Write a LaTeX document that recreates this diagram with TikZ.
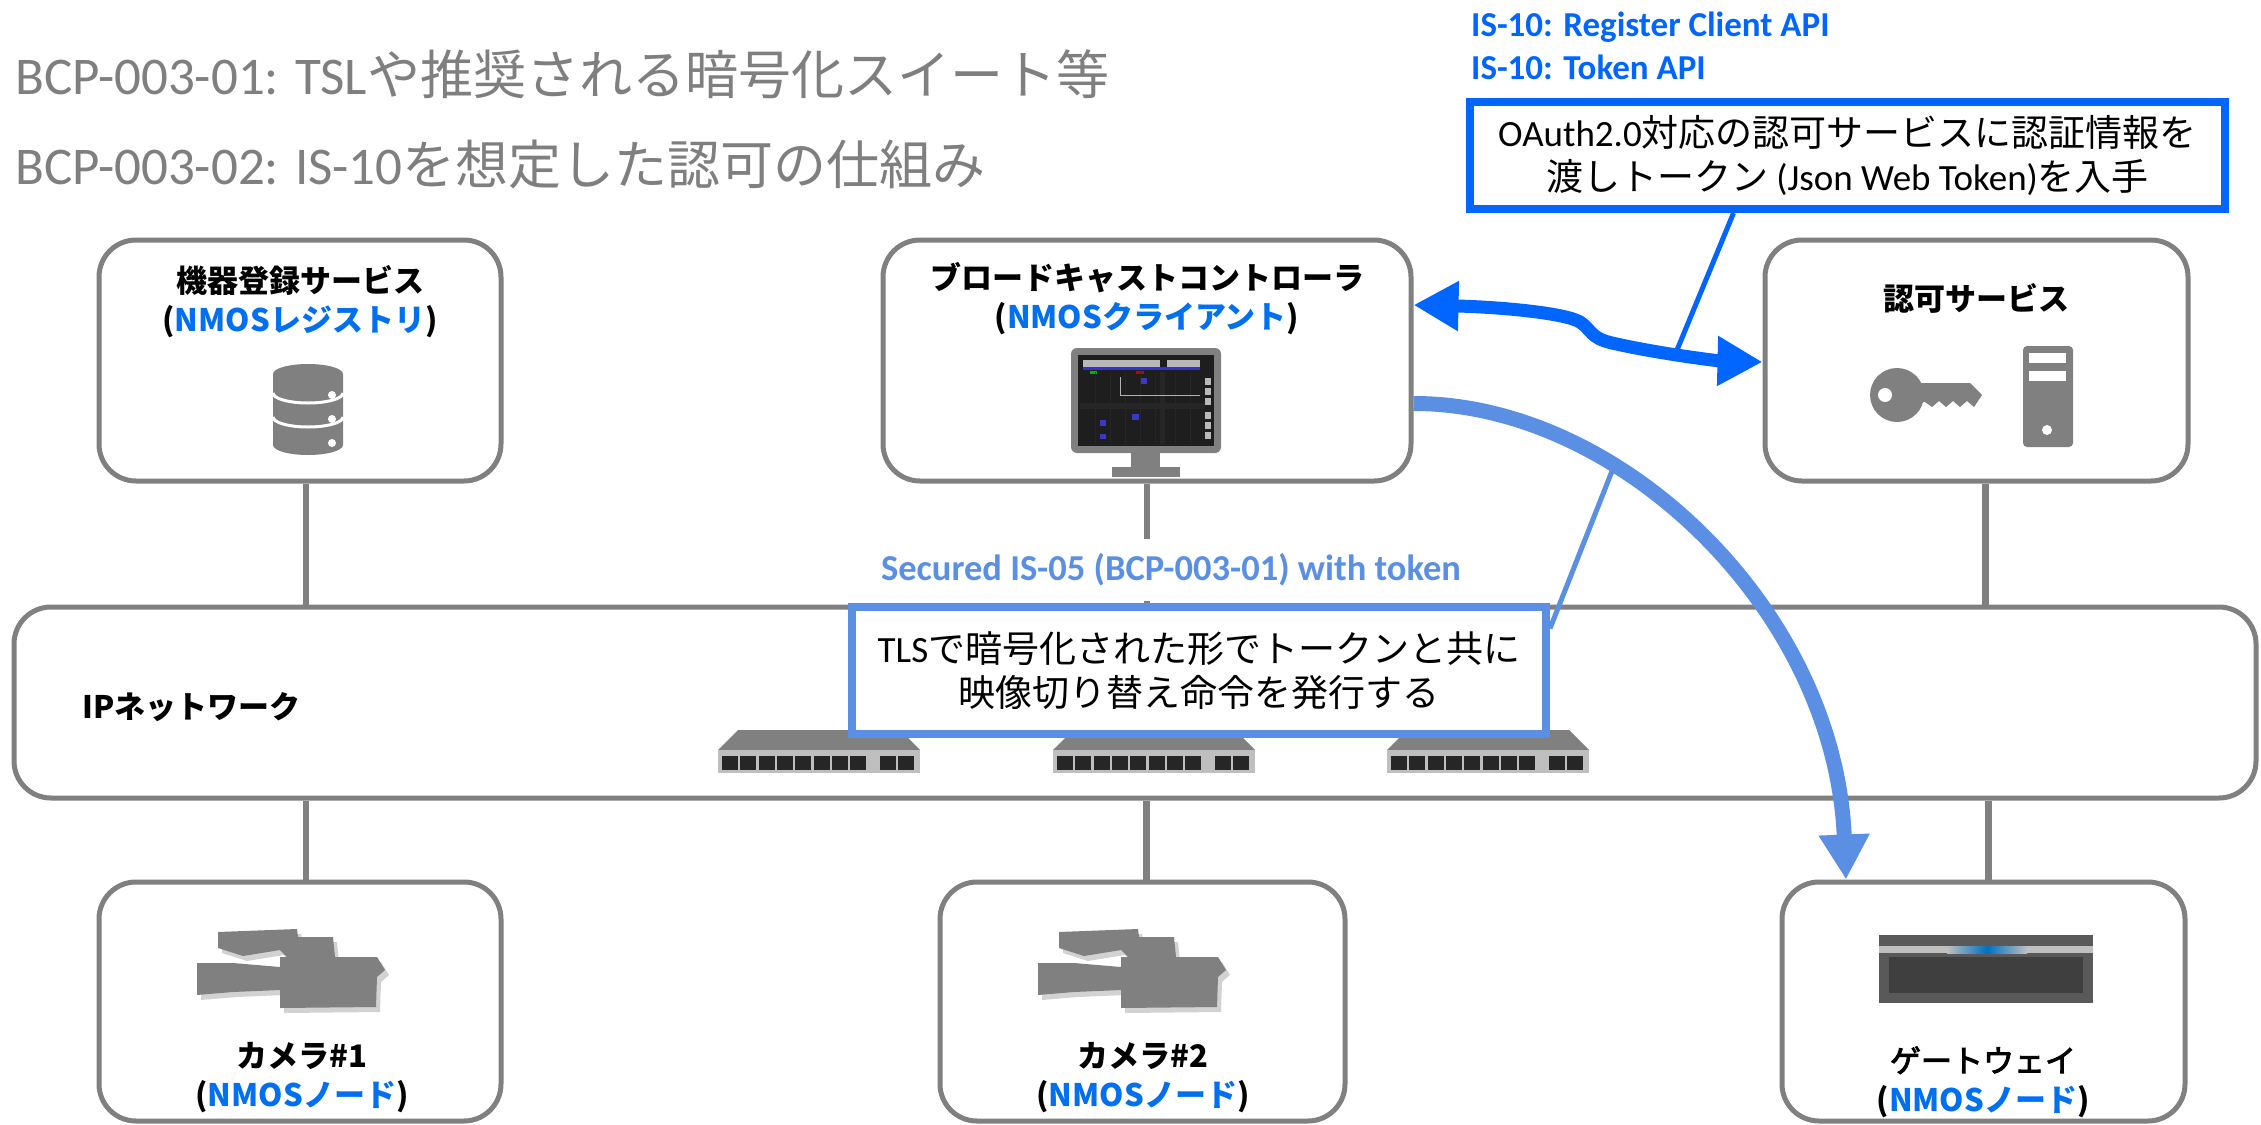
\documentclass[tikz,border=0pt]{standalone}
\usepackage{fontspec}
\setmainfont{Carlito}
\newfontfamily\jp{Noto Sans CJK JP}
\newfontfamily\jpmed[FakeBold=3]{Noto Sans CJK JP}
\usetikzlibrary{arrows.meta,shadows}
\definecolor{frame}{RGB}{128,128,128}
\definecolor{titlegrey}{RGB}{127,127,127}
\definecolor{vivid}{RGB}{0,102,255}
\definecolor{soft}{RGB}{91,143,227}
\definecolor{nmos}{RGB}{0,112,240}
\definecolor{swlight}{RGB}{191,191,191}
\definecolor{port}{RGB}{38,38,38}
\definecolor{screen}{RGB}{30,30,30}
\definecolor{gwbody}{RGB}{89,89,89}
\definecolor{gwinner}{RGB}{63,63,63}
\definecolor{glow}{RGB}{0,112,192}

\begin{document}
\begin{tikzpicture}[x=1pt,y=-1pt,
  box/.style={draw=frame,line width=5pt,rounded corners=37pt,fill=white,inner sep=0pt},
  link/.style={draw=frame,line width=6.5pt},
  lbl/.style={font=\jp\bfseries\fontsize{31}{39}\selectfont,align=center,inner sep=0pt},
  medlbl/.style={font=\jpmed\fontsize{31}{39}\selectfont,align=center,inner sep=0pt},
  callout/.style={line width=8pt,fill=white,inner sep=0pt,align=center,font=\fontsize{37}{44}\selectfont},
  apilbl/.style={font=\bfseries\fontsize{35}{42}\selectfont,text=vivid,inner sep=0pt,anchor=base west},
  heading/.style={font=\fontsize{53}{60}\selectfont,text=titlegrey,inner sep=0pt,anchor=base west},
  camshadow/.style={drop shadow={opacity=0.35,shadow xshift=4pt,shadow yshift=-5pt}},
]
% canvas
\path[use as bounding box,fill=white] (0,0) rectangle (2261,1124);

% headings
\node[heading] (h1) at (15,94) {BCP-003-01: TSL{\jp や推奨される暗号化スイート等}};
\node[heading] (h2) at (15,184) {BCP-003-02: IS-10{\jp を想定した認可の仕組み}};

% boxes
\node[box,minimum width=402pt,minimum height=241pt] (reg) at (300,360.5) {};
\node[box,minimum width=528pt,minimum height=241pt] (ctrl) at (1147,360.5) {};
\node[box,minimum width=423pt,minimum height=241pt] (auth) at (1976.5,360.5) {};
\node[box,minimum width=2242pt,minimum height=191pt] (net) at (1135,702.5) {};
\node[box,minimum width=402pt,minimum height=239pt] (cam1) at (300,1001.5) {};
\node[box,minimum width=405pt,minimum height=239pt] (cam2) at (1142.5,1001.5) {};
\node[box,minimum width=403pt,minimum height=239pt] (gw) at (1983.5,1001.5) {};

% network links
\coordinate (regfoot) at ([xshift=6pt]reg.south);
\coordinate (authfoot) at ([xshift=9pt]auth.south);
\coordinate (cam1top) at ([xshift=6pt]cam1.north);
\coordinate (cam2top) at ([xshift=4pt]cam2.north);
\coordinate (gwtop) at ([xshift=5pt]gw.north);
\draw[link] (regfoot) -- (regfoot |- net.north);
\draw[link] (ctrl.south) -- (ctrl.south |- net.north);
\draw[link] (authfoot) -- (authfoot |- net.north);
\draw[link] (cam1top |- net.south) -- (cam1top);
\draw[link] (cam2top |- net.south) -- (cam2top);
\draw[link] (gwtop |- net.south) -- (gwtop);

% box labels
\node[lbl] (regT) at (300,302) {機器登録サービス\\({\color{nmos}NMOSレジストリ})};
\node[lbl] (ctrlT) at (1147,299) {ブロードキャストコントローラ\\({\color{nmos}NMOSクライアント})};
\node[lbl] (authT) at (1976,298) {認可サービス};
\node[lbl] (cam1T) at (302,1078) {カメラ\#1\\({\color{nmos}NMOSノード})};
\node[lbl] (cam2T) at (1143,1078) {カメラ\#2\\({\color{nmos}NMOSノード})};
\node[medlbl] (gwT) at (1983,1082) {ゲートウェイ\\{\jp\bfseries({\color{nmos}NMOSノード})}};
\node[lbl,anchor=west] (netT) at (82,707) {IPネットワーク};

% database icon
\fill[frame] (273,374) arc[start angle=180,end angle=360,x radius=35,y radius=10]
  -- (343,445) arc[start angle=0,end angle=180,x radius=35,y radius=10] -- cycle;
\draw[white,line width=3pt] (273,393) arc[start angle=180,end angle=0,x radius=35,y radius=10];
\draw[white,line width=3pt] (273,417) arc[start angle=180,end angle=0,x radius=35,y radius=10];
\foreach \yy in {395,419,443} \fill[white] (332,\yy) circle[radius=4];

% monitor icon
\fill[frame,rounded corners=6pt] (1071,348) rectangle (1221,453);
\fill[frame] (1131,450) rectangle (1160,468);
\fill[frame] (1112,467) rectangle (1180,477);
\fill[screen] (1078,355) rectangle (1214,446);
\fill[gray!55] (1083,360) rectangle (1160,367);
\fill[gray!55] (1167,360) rectangle (1200,367);
\fill[blue!60!gray] (1083,367) rectangle (1200,370);
\fill[green!70!black] (1090,371) rectangle (1097,374);
\fill[red!80!black] (1136,371) rectangle (1144,374);
\fill[black!85] (1160,372) rectangle (1165,444);
\fill[black!85] (1080,403) rectangle (1205,409);
\foreach \xx in {1095,1110,1125,1140,1155,1175,1190} \draw[gray!30!black,line width=0.6pt] (\xx,372) -- (\xx,444);
\draw[gray!60,line width=0.8pt] (1120,377) -- (1120,395) -- (1200,395);
\foreach \yy in {378,388,398,412,422,432} \fill[gray!55] (1205,\yy) rectangle (1211,\yy+7);
\fill[blue!55!gray] (1141,378) rectangle (1147,384);
\fill[blue!55!gray] (1132,414) rectangle (1139,420);
\fill[blue!55!gray] (1100,420) rectangle (1106,426);
\fill[blue!55!gray] (1100,434) rectangle (1106,439);

% key and server icons
\fill[frame] (1905,383) -- (1970,383) -- (1982,395) -- (1974,407) -- (1967,401) -- (1960,407)
  -- (1953,401) -- (1946,407) -- (1939,401) -- (1932,407) -- (1925,402) -- (1905,405) -- cycle;
\fill[frame] (1897,395) circle[radius=27];
\fill[white] (1885,395) circle[radius=7];
\fill[frame,rounded corners=4pt] (2023,346) rectangle (2073,447);
\fill[white] (2029,353) rectangle (2066,363);
\fill[white] (2029,371) rectangle (2066,381);
\fill[white] (2047,430) circle[radius=5];

% camera icons
\foreach \dx in {0,841} {
  \begin{scope}[shift={(\dx,0)}]
    \fill[frame,camshadow] (218,932) -- (297,929) -- (298,937) -- (333,937) -- (335,957)
      -- (287,957) -- (280,950) -- (243,956) -- (218,948) -- cycle;
    \fill[frame,camshadow] (197,963) -- (233,963) -- (280,967) -- (280,957) -- (377,957)
      -- (385,970) -- (377,977) -- (376,1007) -- (280,1008) -- (280,990) -- (233,992)
      -- (197,995) -- cycle;
  \end{scope}
}

% gateway icon
\fill[gwbody] (1879,935) rectangle (2093,1003);
\fill[swlight] (1879,946) rectangle (2093,953);
\shade[left color=swlight,right color=glow] (1947,946) rectangle (1987,953);
\shade[left color=glow,right color=swlight] (1987,946) rectangle (2027,953);
\fill[gwinner] (1889,957) rectangle (2083,993);

% network switches
\foreach \sx in {718,1053,1387} {
  \begin{scope}[shift={(\sx,0)}]
    \fill[frame] (0,750) -- (20,730) -- (182,730) -- (202,750) -- cycle;
    \fill[swlight] (0,750) rectangle (202,773);
    \foreach \i in {0,...,7} \fill[port] ({4+\i*18.3},756) rectangle ({4+\i*18.3+16},770);
    \foreach \i in {0,1} \fill[port] ({162+\i*18},756) rectangle ({162+\i*18+16},770);
  \end{scope}
}

% secured command label (covers the controller drop line)
\node[font=\bfseries\fontsize{36.5}{40}\selectfont,text=soft,fill=white,inner xsep=4pt,inner ysep=15pt] (sec) at (1171,570) {Secured IS-05 (BCP-003-01) with token};

% command flow to the gateway
\draw[soft,line width=15pt,-{Triangle[width=48pt,length=45pt]}]
  ([yshift=-43pt]ctrl.east) .. controls (1620,403) and (1835,610) .. ([xshift=-137.5pt]gw.north);

% TLS callout
\node[callout,draw=soft,minimum width=694pt,minimum height=127pt] (tls) at (1199,670.5)
  {TLS{\jp で暗号化された形でトークンと共に}\\{\jp 映像切り替え命令を発行する}};
\coordinate (cmdpt) at (1614,466);
\draw[soft,line width=5pt] ([yshift=42pt]tls.east) -- (cmdpt);

% token exchange with the authorization service
\draw[vivid,line width=13pt,{Triangle[width=47pt,length=45pt]}-{Triangle[width=47pt,length=45pt]}]
  ([yshift=55.5pt]ctrl.east) .. controls (1500,307) and (1565,313) .. (1580,322)
  .. controls (1592,330) and (1590,338) .. (1612,343)
  .. controls (1660,354) and (1720,361) .. ([yshift=-1.5pt]auth.west);

% OAuth callout
\node[callout,draw=vivid,minimum width=755pt,minimum height=107pt] (oauth) at (1847.5,155.5)
  {OAuth2.0{\jp 対応の認可サービスに認証情報を}\\{\jp 渡しトークン} (Json Web Token){\jp を入手}};
\coordinate (tokpt) at (1677,350);
\coordinate (oauthfoot) at ([xshift=-114pt]oauth.south);
\draw[vivid,line width=5pt] (oauthfoot) -- (tokpt);

% API labels
\node[apilbl] (api1) at (1471,37) {IS-10: Register Client API};
\node[apilbl] (api2) at (1471,80) {IS-10: Token API};
\end{tikzpicture}
\end{document}
